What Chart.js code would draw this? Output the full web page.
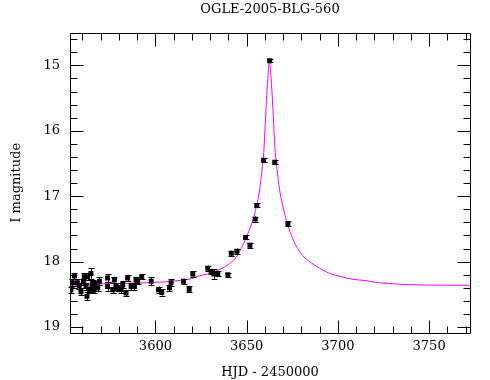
<!DOCTYPE html>
<html>
<head>
<meta charset="utf-8">
<title>OGLE-2005-BLG-560</title>
<script src="https://cdn.jsdelivr.net/npm/chart.js@4.4.1/dist/chart.umd.min.js"></script>
<style>
    html, body { margin: 0; padding: 0; background: #fff; }
    #wrap { width: 490px; height: 380px; }
</style>
</head>
<body>
<div id="wrap"><canvas id="lightCurve"></canvas></div>
<script>
// Observations (HJD - 2450000, I mag, error)
const obsHjd = [
    3553.7, 3554.5, 3555.6, 3557.2, 3558.3, 3559.2, 3560.5, 3561.0, 3562.0, 3562.5,
    3562.9, 3563.8, 3564.7, 3565.4, 3565.6, 3566.5, 3567.1, 3568.4, 3569.3, 3573.8,
    3573.8, 3576.6, 3577.5, 3578.4, 3579.3, 3581.2, 3582.1, 3583.9, 3584.8, 3586.7,
    3588.5, 3589.4, 3590.3, 3592.5, 3597.7, 3601.7, 3603.5, 3607.7, 3608.6, 3615.4,
    3618.5, 3620.5, 3628.7, 3630.6, 3632.0, 3634.2, 3639.7, 3641.6, 3644.6, 3649.4,
    3651.8, 3654.7, 3655.6, 3659.3, 3662.6, 3665.4, 3672.6
];
const obsMag = [
    18.43, 18.32, 18.22, 18.32, 18.37, 18.46, 18.31, 18.23, 18.38, 18.53,
    18.23, 18.43, 18.18, 18.41, 18.33, 18.43, 18.35, 18.40, 18.30, 18.25,
    18.38, 18.43, 18.28, 18.38, 18.40, 18.43, 18.35, 18.48, 18.25, 18.38,
    18.38, 18.28, 18.30, 18.23, 18.30, 18.43, 18.47, 18.40, 18.32, 18.30,
    18.42, 18.19, 18.10, 18.15, 18.19, 18.18, 18.20, 17.87, 17.84, 17.63,
    17.75, 17.35, 17.14, 16.45, 14.93, 16.48, 17.42
];
const obsErr = [
    0.05, 0.05, 0.05, 0.05, 0.05, 0.05, 0.05, 0.05, 0.06, 0.06,
    0.05, 0.05, 0.08, 0.05, 0.05, 0.05, 0.05, 0.05, 0.06, 0.06,
    0.07, 0.05, 0.05, 0.05, 0.05, 0.05, 0.05, 0.05, 0.05, 0.05,
    0.05, 0.05, 0.04, 0.04, 0.06, 0.05, 0.05, 0.05, 0.05, 0.04,
    0.05, 0.04, 0.04, 0.04, 0.08, 0.04, 0.03, 0.04, 0.04, 0.03,
    0.04, 0.04, 0.03, 0.03, 0.02, 0.03, 0.04
];

// Model light curve
const modelHjd = [
    3553.2, 3561.0, 3568.3, 3586.6, 3597.6, 3604.9, 3612.2, 3619.6, 3622.3, 3629.6,
    3635.1, 3640.6, 3644.3, 3647.9, 3650.7, 3653.4, 3655.3, 3657.1, 3658.6, 3659.3,
    3659.7, 3660.2, 3660.8, 3661.6, 3662.5, 3663.4, 3664.2, 3664.8, 3665.3, 3665.8,
    3666.5, 3668.1, 3669.9, 3671.8, 3674.5, 3677.2, 3680.8, 3684.5, 3690.0, 3695.5,
    3701.9, 3708.3, 3715.6, 3719.1, 3726.6, 3737.6, 3759.5, 3772.4
];
const modelMag = [
    18.36, 18.36, 18.34, 18.33, 18.32, 18.31, 18.29, 18.26, 18.23, 18.18,
    18.12, 18.03, 17.93, 17.75, 17.57, 17.37, 17.16, 16.91, 16.55, 16.37,
    16.17, 15.89, 15.56, 15.20, 14.93, 15.20, 15.56, 15.89, 16.17, 16.37,
    16.55, 16.91, 17.16, 17.37, 17.60, 17.76, 17.91, 18.00, 18.10, 18.18,
    18.23, 18.27, 18.29, 18.31, 18.33, 18.35, 18.36, 18.36
];

// Axes
const xRange = [3553.2, 3772.4];
const yRange = [14.5, 19.09];
const xTicks = [3600, 3650, 3700, 3750];
const yTicks = [15, 16, 17, 18, 19];

Chart.defaults.font.family = '"DejaVu Serif", "Liberation Serif", serif';
Chart.defaults.font.size = 13;
Chart.defaults.color = '#000';

/**
 * Error bars with small caps
 */
const errorBars = {
    id: 'errorBars',
    afterDatasetsDraw(chart) {
        const ctx = chart.ctx;
        const x = chart.scales.x;
        const y = chart.scales.y;
        ctx.save();
        ctx.strokeStyle = '#000';
        ctx.lineWidth = 1;
        ctx.beginPath();
        obsHjd.forEach((t, i) => {
            const px = Math.round(x.getPixelForValue(t)) + 0.5;
            const y1 = y.getPixelForValue(obsMag[i] - obsErr[i]);
            const y2 = y.getPixelForValue(obsMag[i] + obsErr[i]);
            ctx.moveTo(px, y1);
            ctx.lineTo(px, y2);
            ctx.moveTo(px - 3, Math.round(y1) + 0.5);
            ctx.lineTo(px + 3, Math.round(y1) + 0.5);
            ctx.moveTo(px - 3, Math.round(y2) + 0.5);
            ctx.lineTo(px + 3, Math.round(y2) + 0.5);
        });
        ctx.stroke();
        ctx.restore();
    }
};

/**
 * Box frame with inward ticks on all four sides
 */
const frame = {
    id: 'frame',
    afterDraw(chart) {
        const ctx = chart.ctx;
        const {left, right, top, bottom} = chart.chartArea;
        const x = chart.scales.x;
        const y = chart.scales.y;
        const L = Math.round(left) + 0.5, R = Math.round(right) + 0.5;
        const T = Math.round(top) + 0.5, B = Math.round(bottom) + 0.5;
        ctx.save();
        ctx.strokeStyle = '#000';
        ctx.lineWidth = 1;
        ctx.beginPath();
        ctx.rect(L, T, R - L, B - T);

        for (let v = 3560; v <= xRange[1]; v += 10) {
            const px = Math.round(x.getPixelForValue(v)) + 0.5;
            const len = xTicks.includes(v) ? 13 : 7;
            ctx.moveTo(px, B); ctx.lineTo(px, B - len);
            ctx.moveTo(px, T); ctx.lineTo(px, T + len);
        }
        for (let k = 73; k <= 95; k++) {
            const v = k / 5;
            const py = Math.round(y.getPixelForValue(v)) + 0.5;
            const len = k % 5 === 0 ? 13 : 7;
            ctx.moveTo(L, py); ctx.lineTo(L + len, py);
            ctx.moveTo(R, py); ctx.lineTo(R - len, py);
        }
        ctx.stroke();
        ctx.restore();
    }
};

function initLightCurve() {
    const ctx = document.getElementById('lightCurve');

    new Chart(ctx, {
        type: 'scatter',
        data: {
            datasets: [{
                label: 'OGLE I',
                data: obsHjd.map((t, i) => ({x: t, y: obsMag[i]})),
                pointStyle: 'rect',
                pointRadius: 3.5,
                pointHoverRadius: 3.5,
                backgroundColor: '#000',
                borderColor: '#000',
                borderWidth: 0
            }, {
                label: 'Model',
                type: 'line',
                data: modelHjd.map((t, i) => ({x: t, y: modelMag[i]})),
                borderColor: '#ff00ff',
                borderWidth: 1,
                pointRadius: 0,
                cubicInterpolationMode: 'monotone',
                fill: false
            }]
        },
        options: {
            responsive: true,
            maintainAspectRatio: false,
            animation: false,
            layout: {
                padding: {top: 0, right: 20, bottom: 0, left: 0}
            },
            plugins: {
                legend: { display: false },
                tooltip: { enabled: false },
                title: {
                    display: true,
                    text: 'OGLE-2005-BLG-560',
                    fullSize: false,
                    font: { size: 13, weight: 'normal' },
                    padding: {top: 2, bottom: 15}
                }
            },
            scales: {
                x: {
                    type: 'linear',
                    min: xRange[0],
                    max: xRange[1],
                    afterBuildTicks: s => { s.ticks = xTicks.map(v => ({value: v})); },
                    afterFit: s => { s.height = 47; },
                    grid: { display: false, drawTicks: false },
                    border: { display: false },
                    ticks: {
                        padding: 6,
                        maxRotation: 0,
                        callback: v => String(v)
                    },
                    title: {
                        display: true,
                        text: 'HJD - 2450000',
                        padding: {top: 0, bottom: 0}
                    }
                },
                y: {
                    type: 'linear',
                    reverse: true,
                    min: yRange[0],
                    max: yRange[1],
                    afterBuildTicks: s => { s.ticks = yTicks.map(v => ({value: v})); },
                    afterFit: s => { s.width = 70; },
                    grid: { display: false, drawTicks: false },
                    border: { display: false },
                    ticks: { padding: 10 },
                    title: {
                        display: true,
                        text: 'I magnitude',
                        padding: {top: 9, bottom: 0}
                    }
                }
            }
        },
        plugins: [errorBars, frame]
    });
}

initLightCurve();
</script>
</body>
</html>
